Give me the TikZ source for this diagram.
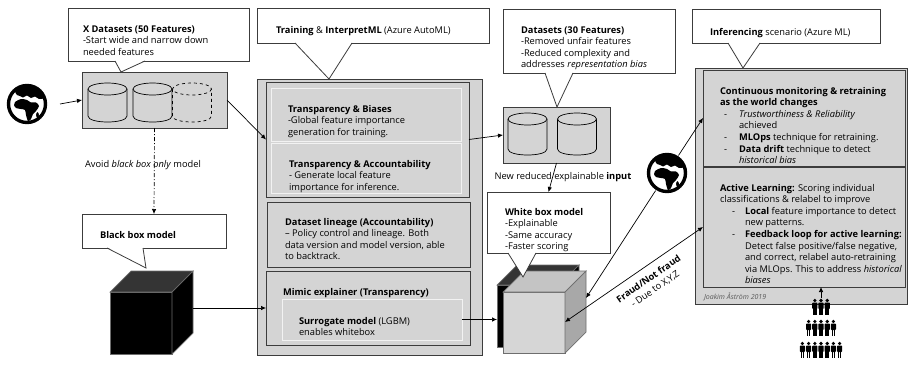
\documentclass[tikz,border=0pt]{standalone}
\usepackage{fontspec}
\setmainfont{Open Sans}
\usetikzlibrary{arrows.meta}
\definecolor{boxfill}{RGB}{212,212,212}
\definecolor{boxline}{RGB}{60,60,60}
\definecolor{lightline}{RGB}{242,242,242}
\definecolor{cubeedge}{RGB}{110,110,110}
\definecolor{cubetop}{RGB}{52,52,52}
\definecolor{gfront}{RGB}{214,214,214}
\definecolor{gtop}{RGB}{196,196,196}
\definecolor{gside}{RGB}{168,168,168}
\newcommand\pointer[3]{% base left, apex, base right
  \fill[white] ([yshift=0.7pt]#1) -- (#2) -- ([yshift=0.7pt]#3) -- cycle;
  \draw[bal] (#1) -- (#2) -- (#3);}
\newcommand\cyl[4]{% centre x, top y, bottom y, extra style
  \filldraw[cylline,#4] (#1-19.5,#2) -- (#1-19.5,#3)
     .. controls (#1-19.5,#3+8) and (#1+19.5,#3+8) .. (#1+19.5,#3) -- (#1+19.5,#2);
  \filldraw[cylline,#4] (#1,#2) ellipse (19.5 and 6);}
\begin{document}
\begin{tikzpicture}[x=1pt,y=-1pt,
  every node/.style={inner sep=0pt, outer sep=0pt},
  txt/.style={anchor=north west, align=left, font=\fontsize{9.3}{11.6}\selectfont},
  ctxt/.style={align=center, font=\fontsize{9.3}{11.6}\selectfont},
  gbox/.style={draw=boxline, fill=boxfill, line width=0.9pt},
  lbox/.style={draw=lightline, fill=boxfill, line width=0.9pt},
  balbox/.style={draw=boxline, fill=white, line width=0.8pt},
  bal/.style={draw=boxline, line width=0.8pt, line join=miter},
  cylline/.style={draw=black, fill=boxfill, line width=0.7pt},
  arr/.style={-{Latex[length=5pt,width=4.5pt]}, line width=0.7pt},
  dblarr/.style={{Latex[length=5pt,width=4.5pt]}-{Latex[length=5pt,width=4.5pt]}, line width=0.7pt},
  globe/.pic={
    \fill[white] (0,0) circle (19);
    \begin{scope}
      \clip (0,0) circle (17.5);
      % Europe and Asia
      \fill plot[smooth cycle] coordinates {(-10,-9) (-12,-13) (-7,-16) (0,-18) (8,-17) (15,-12) (17,-6) (12,-5) (8,-7.5) (4,-6) (0,-8.5) (-4,-6.5) (-7,-8)};
      % Africa
      \fill plot[smooth cycle] coordinates {(-12,-2) (-6,-5) (0,-4) (4,-1.5) (9,-1.5) (12,2) (9,7) (6,10) (4,15) (1,17) (-1,11) (-2,6) (-6,5) (-11,4) (-13,1)};
      % Madagascar
      \fill (10.5,11) ellipse (1.4 and 2.8);
    \end{scope}
    \draw[line width=3.4pt] (0,0) circle (18.5);
  },
  person/.pic={
    \fill (0,-6.5) circle (1.8);
    \fill[rounded corners=0.8pt] (-2.6,-4.5) rectangle (2.6,2);
    \fill (-1.8,1) rectangle (-0.25,8);
    \fill (0.25,1) rectangle (1.8,8);
  }]
\useasboundingbox (0,0) rectangle (910,364);

% ---------- data set with 50 features ----------
\node[gbox, minimum width=145, minimum height=56] (ds50) at (154.5,100) {};
\cyl{107.5}{89}{116}{}
\cyl{152.5}{89}{116}{}
\cyl{192}{89}{116}{dashed}

% ---------- training area ----------
\node[gbox, minimum width=225, minimum height=276] (tout) at (369.5,217) {};
\node[gbox, minimum width=203, minimum height=115] (tin) at (367.5,139.5) {};
\node[lbox, minimum width=190, minimum height=53] (tb1) at (366,114.5) {};
\node[lbox, minimum width=190, minimum height=50] (tb2) at (366,168) {};
\node[gbox, minimum width=203, minimum height=65] (lineage) at (368.5,234.5) {};
\node[gbox, minimum width=204, minimum height=74] (mimic) at (368,308) {};
\node[lbox, minimum width=180, minimum height=41] (sur) at (372,319.5) {};

\node[txt] (tb1t) at (288,104) {\strut\textbf{Transparency \& Biases}\\-Global feature importance\\generation for training.};
\node[txt] (tb2t) at (289,159) {\strut\textbf{Transparency \& Accountability}\\- Generate local feature\\importance for inference.};
\node[txt] (lint) at (285,217) {\strut\textbf{Dataset lineage (Accountability)}\\-- Policy control and lineage. Both\\data version and model version, able\\to backtrack.};
\node[txt] (mimt) at (283,287) {\strut\textbf{Mimic explainer (Transparency)}};
\node[txt] (surt) at (299,316) {\strut\textbf{Surrogate model} (LGBM)\\enables whitebox};

% ---------- data set with 30 features ----------
\node[gbox, minimum width=107, minimum height=56] (ds30) at (556.5,135) {};
\cyl{527.5}{119}{149}{}
\cyl{577}{119}{149}{}

% ---------- inferencing area ----------
\node[gbox, minimum width=212, minimum height=236] (infout) at (801,186) {};
\node[gbox, minimum width=202, minimum height=96] (infA) at (804,118) {};
\node[gbox, minimum width=202, minimum height=120] (infB) at (804,227) {};

\node[txt] (infAt) at (720,86) {%
\begin{tabular}{@{\hspace{4pt}}p{15pt}@{}l@{}}
\multicolumn{2}{@{}l@{}}{\textbf{Continuous monitoring \& retraining}}\\
\multicolumn{2}{@{}l@{}}{\textbf{as the world changes}}\\
- & \textit{Trustworthiness \& Reliability}\\
  & achieved\\
- & \textbf{MLOps} technique for retraining.\\
- & \textbf{Data drift} technique to detect\\
  & \textit{historical bias}
\end{tabular}};
\node[txt] (infBt) at (720,183) {%
\begin{tabular}{@{\hspace{12pt}}p{13pt}@{}l@{}}
\multicolumn{2}{@{}l@{}}{\textbf{Active Learning:} Scoring individual}\\
\multicolumn{2}{@{}l@{}}{classifications \& relabel to improve}\\
- & \textbf{Local} feature importance to detect\\
  & new patterns.\\
- & \textbf{Feedback loop for active learning:}\\
  & Detect false positive/false negative,\\
  & and correct, relabel auto-retraining\\
  & via MLOps. This to address \textit{historical}\\
  & \textit{biases}
\end{tabular}};
\node[anchor=west, font=\fontsize{7}{8}\selectfont\itshape, text=black!65] (author) at (704,297) {Joakim Åström 2019};

% ---------- black box cube ----------
\node[minimum width=83, minimum height=83] (bcube) at (151.5,312.5) {};
\filldraw[fill=black, draw=cubeedge, line width=0.7pt] (110,292) rectangle (172,354);
\filldraw[fill=cubetop, draw=cubeedge, line width=0.7pt] (110,292) -- (131,271) -- (193,271) -- (172,292) -- cycle;
\filldraw[fill=black, draw=cubeedge, line width=0.7pt] (172,292) -- (193,271) -- (193,333) -- (172,354) -- cycle;

% ---------- white box cube (dark cube behind a light one) ----------
\node[minimum width=89, minimum height=88] (wcube) at (541.5,309) {};
\filldraw[fill=black, draw=cubeedge, line width=0.7pt] (497,285) rectangle (559,347);
\filldraw[fill=cubetop, draw=cubeedge, line width=0.7pt] (497,285) -- (517,265) -- (579,265) -- (559,285) -- cycle;
\filldraw[fill=black, draw=cubeedge, line width=0.7pt] (559,285) -- (579,265) -- (579,327) -- (559,347) -- cycle;
\filldraw[fill=gfront, draw=cubeedge, line width=0.7pt] (503,292) rectangle (565,353);
\filldraw[fill=gtop, draw=cubeedge, line width=0.7pt] (503,292) -- (524,271) -- (586,271) -- (565,292) -- cycle;
\filldraw[fill=gside, draw=cubeedge, line width=0.7pt] (565,292) -- (586,271) -- (586,332) -- (565,353) -- cycle;
\coordinate (gface) at (586,298);
\coordinate (gfrontedge) at (565,322);

% ---------- globes and crowd ----------
\node[circle, minimum size=42] (globe1) at (27,104) {};
\pic at (globe1) {globe};
\node[circle, minimum size=42] (globe2) at (667,173) {};
\pic at (globe2) {globe};

\node[minimum width=44, minimum height=64] (crowd) at (821,330) {};
\foreach \i in {-1,0,1} \pic at (821+6.2*\i,307) {person};
\foreach \i in {-2,...,2} \pic at (821+6.2*\i,328) {person};
\foreach \i in {-3,...,3} \pic at (821+6.2*\i,350) {person};

% ---------- callouts ----------
\node[balbox, minimum width=181, minimum height=53] (c1) at (158.5,34.5) {};
\pointer{115,61}{121,72}{145,61}
\node[txt] (c1t) at (83,24) {\strut\textbf{X Datasets (50 Features)}\\-Start wide and narrow down\\needed features};

\node[balbox, minimum width=232, minimum height=35] (c2) at (373,25.5) {};
\pointer{295,43}{329,79}{352,43}
\node[txt] (c2t) at (276,25) {\strut\textbf{Training} \& \textbf{InterpretML} (Azure AutoML)};

\node[balbox, minimum width=172, minimum height=64] (c3) at (589,41) {};
\pointer{545,73}{557,107}{573,73}
\node[txt] (c3t) at (521,25) {\strut\textbf{Datasets (30 Features)}\\-Removed unfair features\\-Reduced complexity and\\addresses \textit{representation bias}};

\node[balbox, minimum width=188, minimum height=34] (c4) at (786,26) {};
\pointer{728,43}{743,68}{760,43}
\node[txt] (c4t) at (710,27) {\strut\textbf{Inferencing} scenario (Azure ML)};

\node[balbox, minimum width=144, minimum height=34] (bcall) at (154,231) {};
\pointer{107,248}{146,268}{143,248}
\node[txt] (bcallt) at (100,230) {\strut\textbf{Black box model}};

\node[balbox, minimum width=123, minimum height=61] (wcall) at (548.5,222.5) {};
\pointer{508,253}{523,277}{536,253}
\node[txt] (wcallt) at (505,207) {\strut\textbf{White box model}\\-Explainable\\-Same accuracy\\-Faster scoring};

% ---------- free labels ----------
\node[ctxt] (avoid) at (143,165) {Avoid \textit{black box only} model};
\node[ctxt] (newin) at (563,177) {New reduced explainable \textbf{input}};
\node[ctxt, rotate=34.7] (fraud) at (652,284) {\textbf{Fraud/Not fraud}\\- Due to X,Y,Z};

% ---------- connectors ----------
\draw[arr] ([xshift=12pt]globe1.east) -- (ds50.west);
\draw[arr] (ds50.east) -- (tin.west);
\draw[arr, dash pattern=on 4pt off 2pt on 1pt off 2pt] (ds50.south) -- (bcall.north);
\draw[arr] (bcube.east |- mimic.west) -- (mimic.west);
\draw[arr] (sur.east) -- (sur.east -| wcube.west);
\draw[arr] (tin.east) -- (ds30.west);
\draw[arr] (ds30.south) -- (wcall.north);
\draw[arr] (globe2) -- (infA.west);
\draw[arr] (globe2) -- (gface);
\draw[dblarr] (gfrontedge) -- (infB.west);
\draw[arr] (crowd.north) -- (crowd.north |- infB.south);
\end{tikzpicture}
\end{document}
